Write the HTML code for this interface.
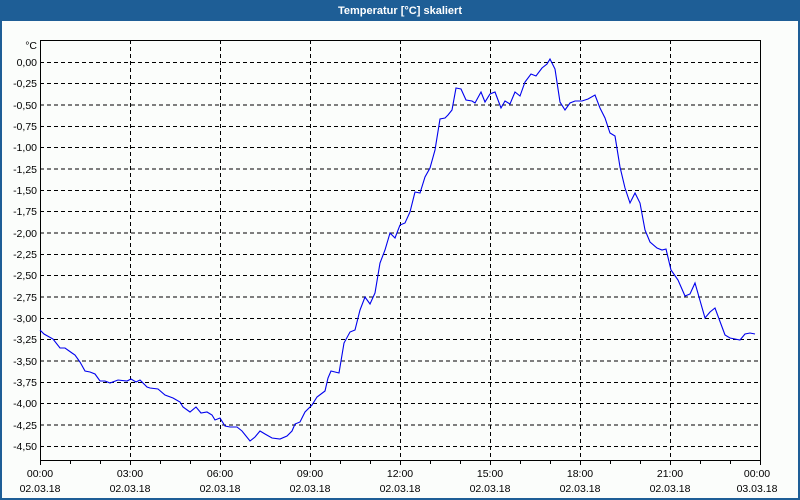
<!DOCTYPE html>
<html><head><meta charset="utf-8"><style>
html,body{margin:0;padding:0;}
body{width:800px;height:500px;overflow:hidden;background:#fcfdfc;font-family:"Liberation Sans",sans-serif;}
</style></head><body>
<svg width="800" height="500" xmlns="http://www.w3.org/2000/svg" style="display:block">
<rect x="0" y="0" width="800" height="500" fill="#1e5e96"/>
<rect x="2" y="21" width="796" height="477" fill="#fbfdfb"/>
<text x="400" y="14" fill="#fff" font-size="11" font-weight="bold" text-anchor="middle" font-family="Liberation Sans, sans-serif">Temperatur [°C] skaliert</text>
<g stroke="#000" stroke-width="1" stroke-dasharray="4,3" fill="none">
<path d="M40 62.5H760M40 83.5H760M40 105H760M40 126.5H760M40 147.5H760M40 169H760M40 190.5H760M40 211.5H760M40 233H760M40 254.5H760M40 275.5H760M40 297H760M40 318.5H760M40 339.5H760M40 361H760M40 382.5H760M40 403.5H760M40 425H760M40 446.5H760"/>
<path d="M130.5 40V460M220.5 40V460M310.5 40V460M400.5 40V460M490.5 40V460M580.5 40V460M670.5 40V460"/>
</g>
<rect x="40.5" y="40.5" width="720" height="420" fill="none" stroke="#000" stroke-width="1"/>
<g stroke="#000" stroke-width="1">
<path d="M40.5 460v5M70.5 460v4M100.5 460v4M130.5 460v5M160.5 460v4M190.5 460v4M220.5 460v5M250.5 460v4M280.5 460v4M310.5 460v5M340.5 460v4M370.5 460v4M400.5 460v5M430.5 460v4M460.5 460v4M490.5 460v5M520.5 460v4M550.5 460v4M580.5 460v5M610.5 460v4M640.5 460v4M670.5 460v5M700.5 460v4M730.5 460v4M760.5 460v5"/>
</g>
<g font-size="10.5" fill="#000" text-anchor="end" font-family="Liberation Sans, sans-serif">
<text x="37" y="49">°C</text>
<text x="37" y="66">0,00</text><text x="37" y="87">-0,25</text><text x="37" y="109">-0,50</text><text x="37" y="130">-0,75</text><text x="37" y="151">-1,00</text><text x="37" y="173">-1,25</text><text x="37" y="194">-1,50</text><text x="37" y="215">-1,75</text><text x="37" y="237">-2,00</text><text x="37" y="258">-2,25</text><text x="37" y="279">-2,50</text><text x="37" y="301">-2,75</text><text x="37" y="322">-3,00</text><text x="37" y="343">-3,25</text><text x="37" y="365">-3,50</text><text x="37" y="386">-3,75</text><text x="37" y="407">-4,00</text><text x="37" y="429">-4,25</text><text x="37" y="450">-4,50</text>
</g>
<g font-size="10.5" fill="#000" text-anchor="middle" font-family="Liberation Sans, sans-serif">
<text x="40" y="477">00:00</text><text x="40" y="492">02.03.18</text>
<text x="130" y="477">03:00</text><text x="130" y="492">02.03.18</text>
<text x="220" y="477">06:00</text><text x="220" y="492">02.03.18</text>
<text x="310" y="477">09:00</text><text x="310" y="492">02.03.18</text>
<text x="400" y="477">12:00</text><text x="400" y="492">02.03.18</text>
<text x="490" y="477">15:00</text><text x="490" y="492">02.03.18</text>
<text x="580" y="477">18:00</text><text x="580" y="492">02.03.18</text>
<text x="670" y="477">21:00</text><text x="670" y="492">02.03.18</text>
<text x="757" y="477">00:00</text><text x="757" y="492">03.03.18</text>
</g>
<polyline fill="none" stroke="#0000ee" stroke-width="1.1" points="40,330 44,334 53,339 60,348 65,348 72,353 75,355 80,362 85,371 90,372 95,374 100,381 105,381 110,383 118,380 127,381 131,379 136,382 140,380 147,387 150,388 158,389 165,395 173,398 180,402 183,407 190,412 196,407 201,413 207,412 212,415 215,420 220,418 225,426 230,427 237,427 242,431 250,441 255,437 260,431 265,434 272,438 280,439 287,436 292,431 295,424 300,422 305,412 312,405 317,397 325,391 328,378 331,371 339,373 344,343 350,332 355,330 360,310 365,297 370,304 375,293 380,263 385,250 390,233 395,238 400,225 405,223 410,212 415,192 420,193 425,177 430,168 435,150 440,119 445,118 448,115 452,110 456,88 461,89 466,100 472,101 475,103 481,92 485,102 490,94 495,92 501,108 505,101 510,104 515,92 520,96 525,82 531,74 536,76 542,68 547,64 550,59 555,69 560,102 565,110 570,103 575,101 582,101 588,99 595,95 600,108 605,118 610,133 615,136 620,167 625,188 630,203 635,193 640,203 645,230 650,242 657,248 662,250 666,249 671,270 678,280 685,296 690,294 695,283 705,318 710,312 715,308 725,335 730,338 740,340 745,334 750,333 755,334"/>
</svg>
</body></html>
